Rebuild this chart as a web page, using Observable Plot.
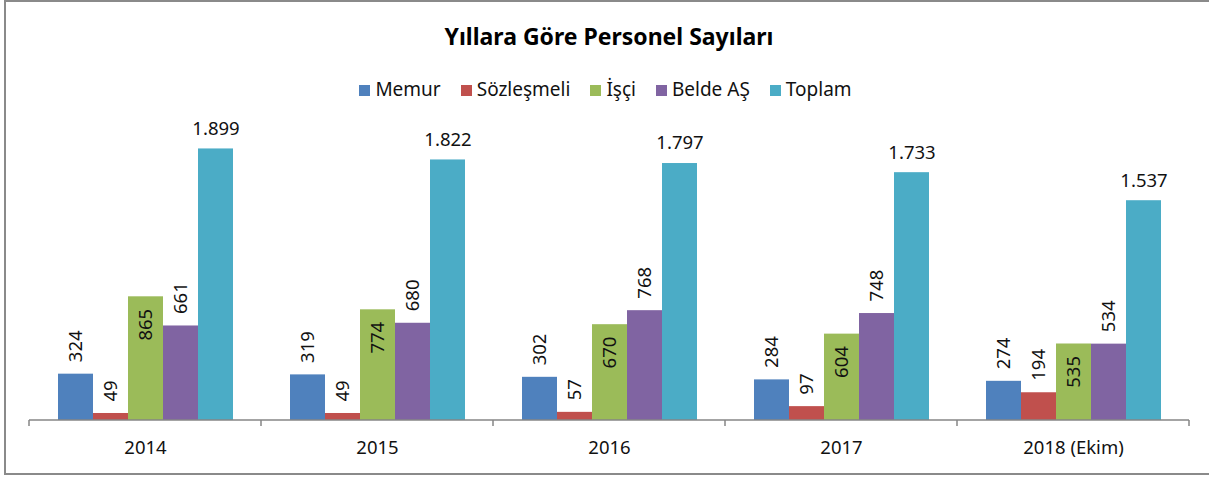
<!DOCTYPE html>
<html>
<head>
<meta charset="utf-8">
<script src="https://cdn.jsdelivr.net/npm/d3@7"></script>
<script src="https://cdn.jsdelivr.net/npm/@observablehq/plot@0.6"></script>
<style>
  html, body { margin: 0; padding: 0; background: #fff; overflow: hidden; }
  #wrap { position: relative; width: 1209px; height: 478px; overflow: hidden; font-family: "Noto Sans", sans-serif; }
  #frame { position: absolute; left: 4px; top: 0; width: 1260px; height: 475px; box-sizing: border-box; border: 2px solid #8a8a8a; }
  #title { position: absolute; left: 0; width: 1218px; top: 25px; text-align: center; font-weight: bold; font-size: 23px; line-height: 23px; color: #000; }
  #legend { position: absolute; left: 0; width: 1211px; top: 80px; display: flex; justify-content: center; font-size: 19px; line-height: 19px; color: #111; }
  .item { display: flex; align-items: center; margin: 0 10px; }
  .sw { width: 11px; height: 11px; margin-right: 5px; margin-top: 2px; }
  #chart { position: absolute; left: 0; top: 101px; }
</style>
</head>
<body>
<div id="wrap">
  <div id="frame"></div>
  <div id="title">Yıllara Göre Personel Sayıları</div>
  <div id="legend"></div>
  <div id="chart"></div>
</div>
<script>
const years = ["2014", "2015", "2016", "2017", "2018 (Ekim)"];
const series = ["Memur", "Sözleşmeli", "İşçi", "Belde AŞ", "Toplam"];
const memur = [324, 319, 302, 284, 274];
const sozlesmeli = [49, 49, 57, 97, 194];
const isci = [865, 774, 670, 604, 535];
const belde = [661, 680, 768, 748, 534];
const toplam = [1899, 1822, 1797, 1733, 1537];
const colors = ["#4F81BD", "#C0504D", "#9BBB59", "#8064A2", "#4BACC6"];

const valuesBySeries = [memur, sozlesmeli, isci, belde, toplam];
const rows = [];
years.forEach((year, i) => {
  series.forEach((s, k) => rows.push({year, series: s, value: valuesBySeries[k][i]}));
});

const tr = d3.formatLocale({decimal: ",", thousands: ".", grouping: [3], currency: ["", "₺"]});
const fmt = tr.format(",d");

// legend
const legend = document.getElementById("legend");
series.forEach((s, k) => {
  const it = document.createElement("div");
  it.className = "item";
  const sw = document.createElement("span");
  sw.className = "sw";
  sw.style.background = colors[k];
  const lab = document.createElement("span");
  lab.textContent = s;
  it.appendChild(sw); it.appendChild(lab);
  legend.appendChild(it);
});

const outside = new Set(["Memur", "Sözleşmeli", "Belde AŞ"]);

const plot = Plot.plot({
  width: 1209,
  height: 370,
  marginLeft: 29,
  marginRight: 20,
  marginTop: 33,
  marginBottom: 51,
  style: {fontFamily: "Noto Sans, sans-serif", fontSize: "18.5px", color: "#111", background: "transparent"},
  facet: {data: rows, x: "year"},
  fx: {domain: years, paddingInner: 0.233, paddingOuter: 0.1165, label: null, tickSize: 0, tickPadding: 20},
  x: {domain: series, padding: 0, axis: null},
  y: {domain: [0, 2000], axis: null},
  color: {domain: series, range: colors},
  marks: [
    Plot.barY(rows, {x: "series", y: "value", fill: "series"}),
    Plot.text(rows, {filter: d => d.series === "Toplam", x: "series", y: "value", text: d => fmt(d.value), dy: -20, fontSize: 18.5, fill: "#111"}),
    Plot.text(rows, {filter: d => outside.has(d.series), x: "series", y: "value", text: d => fmt(d.value), rotate: -90, textAnchor: "start", dy: -12, fontSize: 18.5, fill: "#111"}),
    Plot.text(rows, {filter: d => d.series === "İşçi", x: "series", y: "value", text: d => fmt(d.value), rotate: -90, textAnchor: "end", dy: 12, fontSize: 18.5, fill: "#111"})
  ]
});
document.getElementById("chart").appendChild(plot);

// category axis line with boundary ticks, positioned from Plot's own scales
const fx = plot.scale("fx");
const ys = plot.scale("y");
const y0 = ys.apply ? ys.apply(0) : 370 - 51;
let bounds;
if (fx && fx.apply && fx.step != null) {
  const gap = fx.step - fx.bandwidth;
  bounds = years.map(yr => fx.apply(yr) - gap / 2);
  bounds.push(fx.apply(years[years.length - 1]) + fx.bandwidth + gap / 2);
} else {
  const step = (1209 - 29 - 20) / years.length;
  bounds = d3.range(years.length + 1).map(i => 29 + i * step);
}
const svg = d3.select(plot);
const g = svg.append("g").attr("stroke", "#868686").attr("stroke-width", 1.5);
g.append("line").attr("x1", bounds[0]).attr("x2", bounds[bounds.length - 1]).attr("y1", y0).attr("y2", y0);
bounds.forEach(b => g.append("line").attr("x1", b).attr("x2", b).attr("y1", y0).attr("y2", y0 + 6));
</script>
</body>
</html>
